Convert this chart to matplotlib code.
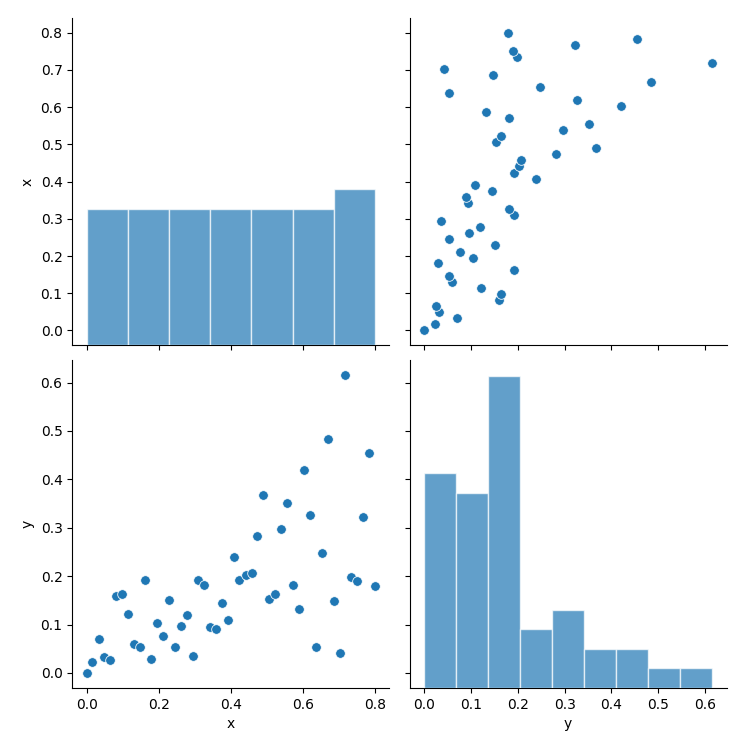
import numpy as np
import pandas as pd
import seaborn as sns
import matplotlib
matplotlib.use('Agg')
import matplotlib.pyplot as plt

# values
x = [0.000, 0.016, 0.033, 0.049, 0.065, 0.082, 0.098, 0.115, 0.131, 0.147,
     0.163, 0.180, 0.196, 0.212, 0.229, 0.245, 0.261, 0.278, 0.294, 0.310,
     0.327, 0.343, 0.359, 0.376, 0.392, 0.408, 0.424, 0.441, 0.458, 0.473,
     0.490, 0.506, 0.522, 0.539, 0.555, 0.572, 0.588, 0.604, 0.620, 0.637,
     0.653, 0.669, 0.686, 0.702, 0.718, 0.735, 0.751, 0.767, 0.784, 0.800]
y = [0.000, 0.023, 0.070, 0.033, 0.026, 0.159, 0.164, 0.122, 0.060, 0.054,
     0.193, 0.029, 0.104, 0.076, 0.151, 0.054, 0.097, 0.120, 0.036, 0.193,
     0.182, 0.094, 0.090, 0.145, 0.109, 0.239, 0.193, 0.202, 0.207, 0.282,
     0.367, 0.153, 0.164, 0.297, 0.352, 0.182, 0.133, 0.420, 0.326, 0.054,
     0.248, 0.484, 0.148, 0.042, 0.615, 0.198, 0.190, 0.323, 0.454, 0.180]

df = pd.DataFrame({'x': x, 'y': y})

g = sns.pairplot(df, height=3.7, plot_kws={'s': 48})
g.figure.set_size_inches(7.37, 7.46)
g.figure.subplots_adjust(left=0.098, right=0.986, top=0.976, bottom=0.078,
                         wspace=0.064, hspace=0.046)

# redraw the diagonal histograms with white edges (x uses 7 bins, y uses 9)
for ax, col, nb in zip(g.diag_axes, ['x', 'y'], [7, 9]):
    for p in list(ax.patches):
        p.remove()
    ax.hist(df[col], bins=nb, color='C0', alpha=0.7, edgecolor='white')
    ax.relim()
    ax.autoscale_view()

g.figure.savefig('out.png', dpi=100)
